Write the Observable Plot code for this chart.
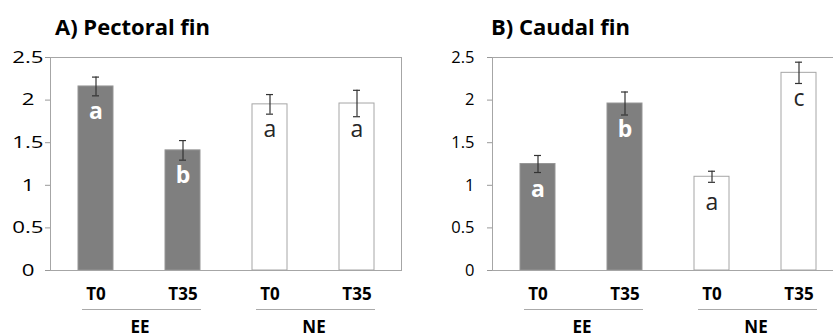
<!DOCTYPE html>
<html><head><meta charset="utf-8">
<script src="https://cdn.jsdelivr.net/npm/d3@7"></script>
<script src="https://cdn.jsdelivr.net/npm/@observablehq/plot@0.6"></script>
<style>
html,body{margin:0;padding:0;background:#fff;}
body{width:833px;height:336px;overflow:hidden;position:relative;font-family:"Open Sans",sans-serif;}
.panel{position:absolute;top:0;width:413px;height:336px;}
.panel svg{max-width:none !important;width:413px;height:336px;display:block;}
.title{position:absolute;top:15px;font-family:"Open Sans",sans-serif;font-weight:bold;font-size:22px;line-height:22px;color:#000;white-space:nowrap;}
</style></head><body>
<div id="a" class="panel" style="left:0"></div>
<div id="b" class="panel" style="left:442px"></div>
<div class="title" style="left:55px">A) Pectoral fin</div>
<div class="title" style="left:491px">B) Caudal fin</div>
<script>
// Categories
const groups = ["EE", "EE", "NE", "NE"];
const times = ["T0", "T35", "T0", "T35"];
const groupNames = ["EE", "NE"];
const timeNames = ["T0", "T35"];

// A) Pectoral fin
const pectoralMean = [2.16, 1.41, 1.95, 1.96];
const pectoralErr = [0.11, 0.115, 0.115, 0.155];
const pectoralLetters = ["a", "b", "a", "a"];

// B) Caudal fin
const caudalMean = [1.25, 1.96, 1.10, 2.32];
const caudalErr = [0.10, 0.135, 0.065, 0.125];
const caudalLetters = ["a", "b", "a", "c"];

// Y ticks
const yIntTicks = [0, 1, 2];
const yHalfTicks = [0.5, 1.5, 2.5];
const yTicks = [0, 0.5, 1, 1.5, 2, 2.5];
const yDomain = [0, 2.5];

const keys = groups.map((g, i) => g + "-" + times[i]);
const groupRows = groupNames.map(g => ({g, a: g + "-" + timeNames[0], b: g + "-" + timeNames[1]}));
const fmt = d => String(d);

function rows(means, errs, letters) {
  return groups.map((g, i) => ({key: keys[i], group: g, time: times[i], mean: means[i], err: errs[i], letter: letters[i]}));
}

function panel(means, errs, letters, yAxisMarks) {
  const data = rows(means, errs, letters);
  return Plot.plot({
    width: 413, height: 336,
    marginLeft: 50, marginRight: 12, marginTop: 57, marginBottom: 66,
    style: {fontFamily: '"Open Sans", sans-serif', background: "transparent", overflow: "visible", color: "#000"},
    x: {type: "band", domain: keys, paddingInner: 0.6, paddingOuter: 0.3, label: null},
    y: {domain: yDomain, label: null},
    color: {type: "identity"},
    marks: [
      Plot.barY(data, {x: "key", y: "mean",
        fill: d => d.group === "EE" ? "#7f7f7f" : "#ffffff",
        stroke: d => d.group === "EE" ? "#969696" : "#a6a6a6", strokeWidth: 1}),
      Plot.frame({stroke: "#a6a6a6"}),
      Plot.ruleX(data, {x: "key", y1: d => d.mean - d.err, y2: d => d.mean + d.err, stroke: "#333", strokeWidth: 1.2}),
      Plot.tickY(data, {x: "key", y: d => d.mean + d.err, insetLeft: 14, insetRight: 14, stroke: "#333", strokeWidth: 1.2}),
      Plot.tickY(data, {x: "key", y: d => d.mean - d.err, insetLeft: 14, insetRight: 14, stroke: "#333", strokeWidth: 1.2}),
      Plot.text(data.filter(d => d.group === "EE"), {x: "key", y: "mean", text: "letter", dy: 33, lineAnchor: "bottom", fill: "#fff", fontSize: 23, fontWeight: "bold"}),
      Plot.text(data.filter(d => d.group !== "EE"), {x: "key", y: "mean", text: "letter", dy: 33, lineAnchor: "bottom", fill: "#262626", fontSize: 23, fontWeight: "normal"}),
      ...yAxisMarks,
      Plot.axisX({tickSize: 0, tickPadding: 17.5, tickFormat: k => k.split("-")[1], fontSize: 17, fontWeight: "bold", label: null}),
      Plot.ruleY(groupRows, {x1: "a", x2: "b", y: 0, dy: 39, insetLeft: 4, insetRight: -1, stroke: "#aaa", strokeWidth: 1.2}),
      Plot.text(groupRows, {x: "a", y: 0, dx: 44, dy: 62, lineAnchor: "bottom", text: "g", fontSize: 17, fontWeight: "bold", fill: "#000"})
    ]
  });
}

const axisA = [
  Plot.axisY({ticks: yIntTicks, tickFormat: fmt, tickSize: 5, tickPadding: 11, fontSize: 16.5, stroke: "#999", fill: "#000", label: null}),
  Plot.axisY({ticks: yHalfTicks, tickFormat: fmt, tickSize: 5, tickPadding: 2, fontSize: 16.5, stroke: "#999", fill: "#000", label: null})
];
const axisB = [
  Plot.axisY({ticks: yTicks, tickFormat: fmt, tickSize: 5, tickPadding: 13, fontSize: 16.5, stroke: "#999", fill: "#000", label: null})
];

const svgA = panel(pectoralMean, pectoralErr, pectoralLetters, axisA);
const svgB = panel(caudalMean, caudalErr, caudalLetters, axisB);
document.getElementById("a").append(svgA);
document.getElementById("b").append(svgB);

// Panel A's tick labels are drawn horizontally wider in the reference
svgA.querySelectorAll('g[aria-label="y-axis tick label"] text').forEach(t => {
  const tr = t.getAttribute("transform");
  if (tr) {
    t.setAttribute("transform", tr + " scale(1.35,1)");
  } else {
    const x = +(t.getAttribute("x") || 0), y = +(t.getAttribute("y") || 0);
    t.removeAttribute("x"); t.removeAttribute("y");
    t.setAttribute("transform", `translate(${x},${y}) scale(1.35,1)`);
  }
});
</script>
</body></html>
